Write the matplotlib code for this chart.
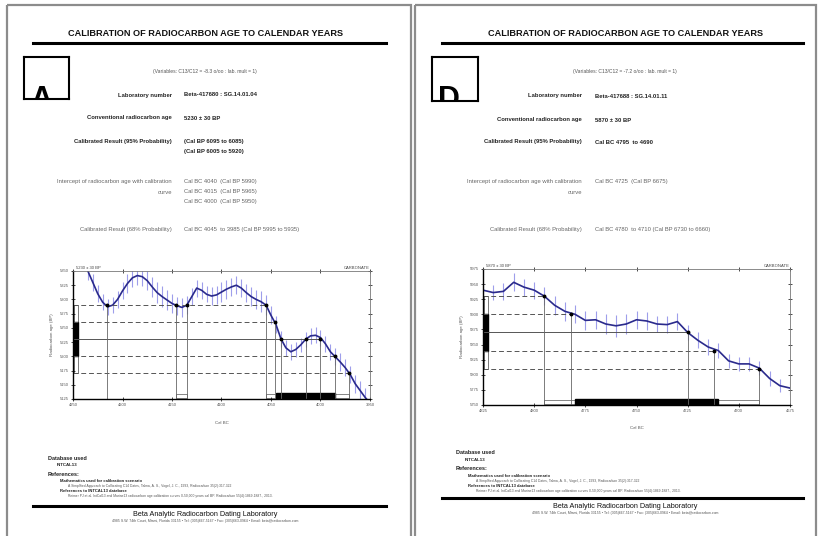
import numpy as np
import matplotlib
matplotlib.use('Agg')
from matplotlib import pyplot as plt
from matplotlib.patches import Rectangle

plt.rcParams['font.family'] = ['Liberation Sans', 'DejaVu Sans']

W, H = 819, 536

# ---- sample A : Beta-417680 ----
a_years = [4240, 4235, 4230, 4225, 4220, 4215, 4210, 4205, 4200, 4195, 4190, 4185,
           4180, 4175, 4170, 4165, 4160, 4155, 4150, 4145, 4140, 4135, 4130, 4125,
           4120, 4115, 4110, 4105, 4100, 4095, 4090, 4085, 4080, 4075, 4070, 4065,
           4060, 4055, 4050, 4045, 4040, 4035, 4030, 4025, 4020, 4015, 4010, 4005,
           4000, 3995, 3990, 3985, 3980, 3975, 3970, 3965, 3960, 3955, 3950]
a_age = [5370, 5350, 5330, 5310, 5295, 5287, 5290, 5300, 5315, 5328, 5338, 5342,
         5340, 5333, 5322, 5312, 5305, 5299, 5293, 5289, 5286, 5290, 5305, 5320,
         5316, 5309, 5306, 5308, 5313, 5318, 5322, 5325, 5320, 5312, 5305, 5300,
         5296, 5290, 5272, 5256, 5231, 5215, 5208, 5212, 5220, 5230, 5236, 5237,
         5233, 5222, 5208, 5199, 5190, 5180, 5168, 5152, 5140, 5128, 5118]
a_err = [16, 16, 15, 15, 14, 14, 14, 15, 15, 16, 16, 17,
         17, 17, 18, 18, 18, 17, 17, 16, 16, 16, 15, 15,
         15, 14, 15, 16, 17, 17, 16, 16, 16, 16, 16, 17,
         18, 18, 16, 15, 14, 14, 14, 13, 13, 13, 14, 14,
         14, 14, 14, 15, 15, 15, 15, 16, 16, 16, 16]
a_c14, a_sigma = 5230, 30
a_cross_years = [4216, 4146, 4135, 4055, 4046, 4040, 4015, 4000, 3985, 3971]
a_cross_ages = [5290, 5290, 5290, 5290, 5260, 5230, 5230, 5230, 5200, 5170]
a_range95 = [(4146, 4135), (4055, 3971)]
a_range68 = [(4045, 3985)]
a_xticks = [4250, 4200, 4150, 4100, 4050, 4000, 3950]
a_yticks = [5125, 5150, 5175, 5200, 5225, 5250, 5275, 5300, 5325, 5350]

# ---- sample D : Beta-417688 ----
b_years = [4825, 4820, 4815, 4810, 4805, 4800, 4795, 4790, 4785, 4780, 4775, 4770,
           4765, 4760, 4755, 4750, 4745, 4740, 4735, 4730, 4725, 4720, 4715, 4710,
           4705, 4700, 4695, 4690, 4685, 4680, 4675]
b_age = [5940, 5936, 5938, 5953, 5945, 5940, 5930, 5915, 5905, 5900, 5890, 5891,
         5884, 5881, 5884, 5891, 5889, 5884, 5883, 5888, 5870, 5857, 5846, 5840,
         5823, 5818, 5818, 5811, 5794, 5782, 5778]
b_err = [13, 13, 14, 15, 14, 14, 15, 16, 16, 15, 16, 15,
         17, 18, 16, 15, 15, 14, 14, 14, 13, 13, 13, 13,
         12, 12, 12, 12, 12, 11, 11]
b_c14, b_sigma = 5870, 30
b_cross_years = [4795, 4782, 4725, 4712, 4690]
b_cross_ages = [5930, 5900, 5870, 5840, 5810]
b_range95 = [(4795, 4690)]
b_range68 = [(4780, 4710)]
b_xticks = [4825, 4800, 4775, 4750, 4725, 4700, 4675]
b_yticks = [5750, 5775, 5800, 5825, 5850, 5875, 5900, 5925, 5950, 5975]

fig = plt.figure(figsize=(W / 100, H / 100), dpi=100)
bg = fig.add_axes([0, 0, 1, 1])
bg.set_xlim(0, W)
bg.set_ylim(H, 0)
bg.axis('off')


def txt(x, y, s, size=4.2, color='#222222', **kw):
    bg.text(x, y, s, fontsize=size, color=color, va='center', **kw)


def px_axes(x0, y0, x1, y1):
    return fig.add_axes([x0 / W, 1 - y1 / H, (x1 - x0) / W, (y1 - y0) / H])


def page(ox, right, info, rows, letter, box, foot):
    # page frame
    bg.add_patch(Rectangle((ox, 5), right - ox, H, fill=False, ec='#8c8c8c', lw=1.6))
    cx = info['cx']
    txt(cx, 33, 'CALIBRATION OF RADIOCARBON AGE TO CALENDAR YEARS', size=6.6,
        color='#111111', ha='center', weight='bold')
    bg.plot([info['r0'], info['r1']], [43, 43], color='black', lw=2.2)

    # sample letter in a small box that cuts it off
    bx, by, bw, bh = box
    lab = px_axes(bx, by, bx + bw, by + bh)
    lab.set_xlim(0, bw)
    lab.set_ylim(bh, 0)
    lab.set_xticks([])
    lab.set_yticks([])
    for s in lab.spines.values():
        s.set_linewidth(1.5)
    lab.text(6, info['letter_base'] - by, letter, fontsize=22, weight='bold',
             va='baseline', ha='left', clip_on=True)

    txt(cx, 72, info['variables'], size=3.6, color='#555555', ha='center')
    lx, vx = info['lx'], info['vx']
    for y, label, values, col in rows:
        for k, line in enumerate(label):
            txt(lx, y + 10 * k, line, ha='right', color=col,
                weight='bold' if col == '#222222' else 'normal')
        for k, line in enumerate(values):
            txt(vx, y + 10 * k, line, color=col,
                weight='bold' if col == '#222222' else 'normal')

    # database / references block
    fy, ry = foot['db'], foot['rule']
    txt(ox + 41, fy, 'Database used', size=4.0, weight='bold')
    txt(ox + 50, fy + 7, 'INTCAL13', size=3.2, weight='bold')
    txt(ox + 41, fy + 16, 'References:', size=4.0, weight='bold')
    txt(ox + 53, fy + 23, 'Mathematics used for calibration scenario', size=3.0, weight='bold')
    txt(ox + 61, fy + 28, 'A Simplified Approach to Calibrating C14 Dates, Talma, A. S., Vogel, J. C., '
        '1993, Radiocarbon 35(2):317-322', size=2.4, color='#555555')
    txt(ox + 53, fy + 33, 'References to INTCAL13 database', size=3.0, weight='bold')
    txt(ox + 61, fy + 38, 'Reimer PJ et al. IntCal13 and Marine13 radiocarbon age calibration curves '
        '0-50,000 years cal BP. Radiocarbon 55(4):1869-1887., 2013.', size=2.4, color='#555555')
    bg.plot([info['r0'], info['r1']], [ry, ry], color='black', lw=2.2)
    txt(cx, ry + 8, 'Beta Analytic Radiocarbon Dating Laboratory', size=5.2, color='#111111',
        ha='center')
    txt(cx, ry + 15, '4985 S.W. 74th Court, Miami, Florida 33155 \u2022 Tel: (305)667-5167 \u2022 '
        'Fax: (305)663-0964 \u2022 Email: beta@radiocarbon.com', size=2.5, color='#555555',
        ha='center')


def chart(px, xlim, ylim, years, age, err, c14, sigma, cross_x, cross_y,
          r95, r68, xticks, yticks, xlab_y):
    x0, y0, x1, y1 = px
    ax = px_axes(x0, y0, x1, y1)
    ax.set_xlim(*xlim)
    ax.set_ylim(*ylim)

    # calibration curve with its error bars
    ax.vlines(years, np.array(age) - np.array(err), np.array(age) + np.array(err),
              color='#8d8de8', lw=0.8, alpha=0.85)
    ax.plot(years, age, color='#2a2a8c', lw=1.2)

    # sigma levels: horizontal lines out to the last intercept
    cross_x = np.array(cross_x)
    cross_y = np.array(cross_y)
    for k in (-2, -1, 0, 1, 2):
        level = c14 + k * sigma
        end = cross_x[cross_y == level].min()
        ax.plot([xlim[0], end], [level, level], color='#555555', lw=0.7,
                ls='-' if k == 0 else (0, (5, 3)))
    # drop lines from each intercept
    ax.vlines(cross_x, ylim[0], cross_y, color='#666666', lw=0.6)
    ax.plot(cross_x, cross_y, 'o', color='black', ms=1.8)

    # measured age bars along the y axis
    ty = ax.get_yaxis_transform()
    ax.add_patch(Rectangle((0.004, c14 - 2 * sigma), 0.012, 4 * sigma, transform=ty,
                           fill=False, ec='#444444', lw=0.5))
    ax.add_patch(Rectangle((0.0, c14 - sigma), 0.017, 2 * sigma, transform=ty,
                           fc='black', ec='black'))

    # calibrated ranges along the x axis
    tx = ax.get_xaxis_transform()
    for a, b in r95:
        ax.add_patch(Rectangle((a, 0.004), b - a, 0.035, transform=tx,
                               fill=False, ec='#555555', lw=0.5))
    for a, b in r68:
        ax.add_patch(Rectangle((a, 0.0), b - a, 0.045, transform=tx,
                               fc='black', ec='black'))

    ax.set_xticks(xticks)
    ax.set_yticks(yticks)
    ax.tick_params(direction='inout', length=3, width=0.5, labelsize=3.0,
                   labelcolor='#555555', pad=1.5, top=True, right=True)
    for side in ('left', 'bottom'):
        ax.spines[side].set_linewidth(1.0)
    for side in ('top', 'right'):
        ax.spines[side].set_linewidth(0.6)
        ax.spines[side].set_color('#777777')
    ax.set_ylabel('Radiocarbon age (BP)', fontsize=3.2, color='#555555', labelpad=4)
    ax.text(0.01, 1.01, '%d \u00b1 %d BP' % (c14, sigma), transform=ax.transAxes,
            fontsize=3.0, color='#444444', va='bottom')
    ax.text(1.0, 1.01, 'CARBONATE', transform=ax.transAxes, fontsize=3.0,
            color='#444444', va='bottom', ha='right')
    txt((x0 + x1) / 2, xlab_y, 'Cal BC', size=3.2, color='#555555', ha='center')


page(7, 411,
     dict(cx=205, r0=33, r1=386, lx=172, vx=184, letter_base=108,
          variables='(Variables: C13/C12 = -8.3 o/oo : lab. mult = 1)'),
     [(95, ['Laboratory number'], ['Beta-417680 : SG.14.01.04'], '#222222'),
      (118, ['Conventional radiocarbon age'], ['5230 \u00b1 30 BP'], '#222222'),
      (142, ['Calibrated Result (95% Probability)'],
       ['(Cal BP 6095 to 6085)', '(Cal BP 6005 to 5920)'], '#222222'),
      (182, ['Intercept of radiocarbon age with calibration', 'curve'],
       ['Cal BC 4040  (Cal BP 5990)', 'Cal BC 4015  (Cal BP 5965)',
        'Cal BC 4000  (Cal BP 5950)'], '#666666'),
      (229, ['Calibrated Result (68% Probability)'],
       ['Cal BC 4045  to 3985 (Cal BP 5995 to 5935)'], '#666666')],
     'A', (24, 57, 45, 42), dict(db=458, rule=506))

page(415, 816,
     dict(cx=625, r0=442, r1=803, lx=582, vx=595, letter_base=108,
          variables='(Variables: C13/C12 = -7.2 o/oo : lab. mult = 1)'),
     [(96, ['Laboratory number'], ['Beta-417688 : SG.14.01.11'], '#222222'),
      (120, ['Conventional radiocarbon age'], ['5870 \u00b1 30 BP'], '#222222'),
      (142, ['Calibrated Result (95% Probability)'], ['Cal BC 4795  to 4690'], '#222222'),
      (182, ['Intercept of radiocarbon age with calibration', 'curve'],
       ['Cal BC 4725  (Cal BP 6675)'], '#666666'),
      (229, ['Calibrated Result (68% Probability)'],
       ['Cal BC 4780  to 4710 (Cal BP 6730 to 6660)'], '#666666')],
     'D', (432, 57, 46, 44), dict(db=453, rule=498))

chart((73, 271, 370, 399), (4250, 3950), (5125, 5350), a_years, a_age, a_err,
      a_c14, a_sigma, a_cross_years, a_cross_ages, a_range95, a_range68,
      a_xticks, a_yticks, 423)
chart((483, 269, 790, 405), (4825, 4675), (5750, 5975), b_years, b_age, b_err,
      b_c14, b_sigma, b_cross_years, b_cross_ages, b_range95, b_range68,
      b_xticks, b_yticks, 428)

fig.savefig('out.png', dpi=100)
